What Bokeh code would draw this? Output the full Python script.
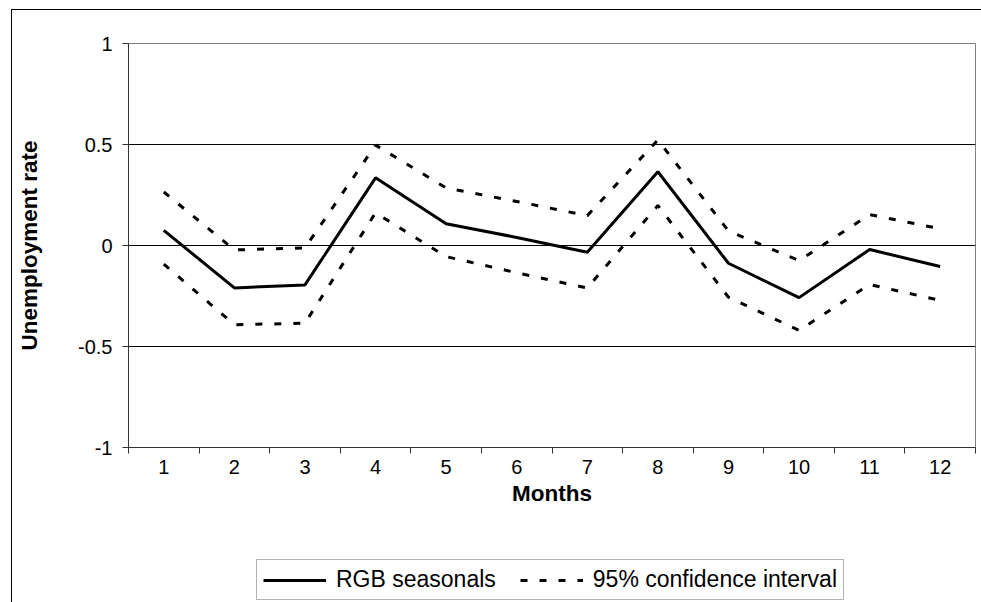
from bokeh.plotting import figure
from bokeh.layouts import column
from bokeh.models import Range1d, FixedTicker, Legend, LegendItem
from bokeh.embed import file_html
from bokeh.resources import INLINE

months = list(range(1, 13))
month_labels = [str(m) for m in months]
seasonal = [0.075, -0.21, -0.195, 0.335, 0.108, 0.04, -0.033, 0.365, -0.088, -0.258, -0.02, -0.104]
upper = [0.265, -0.022, -0.012, 0.497, 0.285, 0.218, 0.148, 0.522, 0.072, -0.075, 0.153, 0.083]
lower = [-0.092, -0.392, -0.385, 0.162, -0.055, -0.135, -0.21, 0.198, -0.256, -0.42, -0.193, -0.272]
y_ticks = [-1, -0.5, 0, 0.5, 1]
y_tick_labels = ["-1", "-0.5", "0", "0.5", "1"]
series_names = ["RGB seasonals", "95% confidence interval"]

FONT = "Liberation Sans"
DASH = "7 12"

p = figure(width=969, height=530, x_range=Range1d(0.5, 12.5), y_range=Range1d(-1, 1),
           output_backend="svg", toolbar_location=None,
           min_border_left=116, min_border_right=6, min_border_top=33, min_border_bottom=93)
p.background_fill_color = "white"
p.border_fill_color = "white"
p.outline_line_color = "#808080"
p.outline_line_width = 1

# x axis: labels at month centres, tick marks at boundaries
p.xaxis.ticker = FixedTicker(ticks=months, minor_ticks=[m - 0.5 for m in months] + [12.5])
p.xaxis.major_label_overrides = {m: lab for m, lab in zip(months, month_labels)}
p.xaxis.major_tick_out = 0
p.xaxis.major_tick_in = 0
p.xaxis.minor_tick_out = 6
p.xaxis.minor_tick_in = 0
p.xaxis.minor_tick_line_color = "#333333"
p.xaxis.axis_line_color = "#333333"
p.xaxis.major_label_standoff = 6
p.xaxis.axis_label = "Months"
p.xaxis.axis_label_standoff = 4

# y axis
p.yaxis.ticker = FixedTicker(ticks=y_ticks, minor_ticks=[])
p.yaxis.major_label_overrides = {t: lab for t, lab in zip(y_ticks, y_tick_labels)}
p.yaxis.major_tick_out = 6
p.yaxis.major_tick_in = 0
p.yaxis.major_tick_line_color = "#333333"
p.yaxis.axis_line_color = "#333333"
p.yaxis.major_label_standoff = 10
p.yaxis.axis_label = "Unemployment rate"
p.yaxis.axis_label_standoff = 33

for ax in (p.xaxis, p.yaxis):
    ax.major_label_text_font = FONT
    ax.major_label_text_font_size = "20px"
    ax.major_label_text_color = "black"
    ax.axis_label_text_font = FONT
    ax.axis_label_text_font_size = "22.5px"
    ax.axis_label_text_font_style = "bold"
    ax.axis_label_text_color = "black"

p.xgrid.grid_line_color = None
p.ygrid.ticker = FixedTicker(ticks=[-0.5, 0, 0.5])
p.ygrid.grid_line_color = "black"
p.ygrid.grid_line_width = 1

p.line(months, seasonal, line_color="black", line_width=3)
p.line(months, upper, line_color="black", line_width=3, line_dash=DASH)
p.line(months, lower, line_color="black", line_width=3, line_dash=DASH)

# legend strip below the chart (same outer chart area); its key lines lie outside its view
lg = figure(width=969, height=62, x_range=Range1d(-1, 0), y_range=Range1d(-1, 1),
            output_backend="svg", toolbar_location=None,
            x_axis_location=None, y_axis_location=None,
            min_border_left=0, min_border_right=0, min_border_top=0, min_border_bottom=0)
lg.outline_line_color = None
lg.background_fill_color = "white"
lg.border_fill_color = "white"
lg.xgrid.visible = False
lg.ygrid.visible = False
k_main = lg.line(months, seasonal, line_color="black", line_width=3)
k_ci = lg.line(months, upper, line_color="black", line_width=3, line_dash=DASH)

legend = Legend(items=[LegendItem(label=series_names[0], renderers=[k_main]),
                       LegendItem(label=series_names[1], renderers=[k_ci])],
                orientation="horizontal", location=(128, 2))
legend.label_text_font = FONT
legend.label_text_font_size = "23px"
legend.label_text_color = "black"
legend.glyph_width = 63
legend.label_standoff = 10
legend.spacing = 24
legend.padding = 6
legend.margin = 0
legend.border_line_color = "#666666"
legend.border_line_width = 1
legend.background_fill_color = "white"
legend.background_fill_alpha = 1
lg.add_layout(legend)

layout = column(p, lg, spacing=0)
layout.styles = {"margin-left": "11px", "margin-top": "9px",
                 "border-left": "1px solid black", "border-top": "1px solid black"}

open("out.html", "w").write(file_html(layout, INLINE))
